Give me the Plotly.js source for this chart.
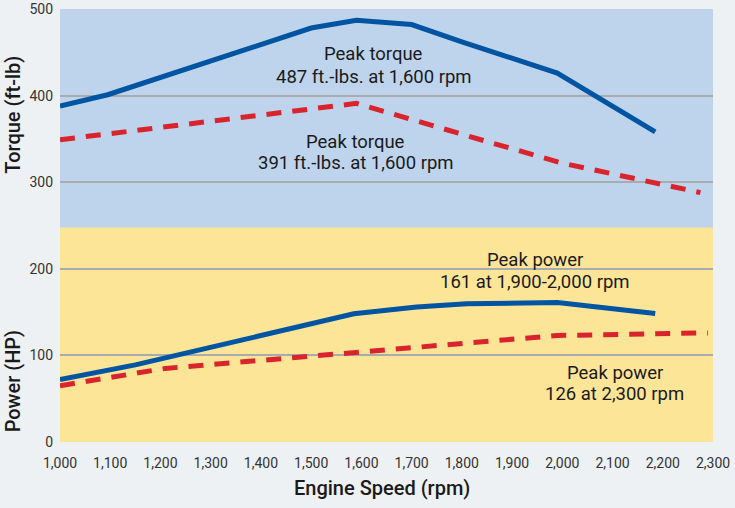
<!DOCTYPE html>
<html>
<head>
<meta charset="utf-8">
<script src="https://cdn.plot.ly/plotly-3.0.1.min.js"></script>
<style>
  html, body { margin: 0; padding: 0; background: #eef1f3; }
  #chart { width: 735px; height: 508px; }
</style>
</head>
<body>
<div id="chart"></div>
<script>
// Engine speed (rpm) and values
const torqueNewRpm = [1000, 1095, 1500, 1590, 1700, 1800, 1990, 2185];
const torqueNew    = [388, 401, 478, 487, 482, 462, 426, 358];

const torqueOldRpm = [1000, 1590, 1850, 2000, 2275];
const torqueOld    = [349, 391, 347, 322, 288];

const powerNewRpm  = [1000, 1150, 1585, 1710, 1810, 1910, 1990, 2185];
const powerNew     = [72, 89, 148, 156, 159.5, 161, 161, 148.5];

const powerOldRpm  = [1000, 1210, 1990, 2290];
const powerOld     = [65, 85, 123, 126];

const xTickVals = [1000, 1100, 1200, 1300, 1400, 1500, 1600, 1700, 1800, 1900, 2000, 2100, 2200, 2300];
const xTickText = ["1,000", "1,100", "1,200", "1,300", "1,400", "1,500", "1,600", "1,700", "1,800", "1,900", "2,000", "2,100", "2,200", "2,300"];
const yTickVals = [0, 100, 200, 300, 400, 500];

const powerBandTop = 248;   // boundary between power (yellow) and torque (blue) zones
const yMax = 500;

const BLUE = '#0055a2';
const RED = '#d9242d';
const FONT = 'Roboto, "DejaVu Sans", sans-serif';

const traces = [
  { x: torqueNewRpm, y: torqueNew, mode: 'lines', line: { color: BLUE, width: 5 }, hoverinfo: 'skip' },
  { x: torqueOldRpm, y: torqueOld, mode: 'lines', line: { color: RED, width: 5, dash: '15px,11px' }, hoverinfo: 'skip' },
  { x: powerNewRpm, y: powerNew, mode: 'lines', line: { color: BLUE, width: 5 }, hoverinfo: 'skip' },
  { x: powerOldRpm, y: powerOld, mode: 'lines', line: { color: RED, width: 5, dash: '15px,11px' }, hoverinfo: 'skip' }
];

const labelFont = { family: FONT, size: 18.5, color: '#1a1a1a' };
function lbl(text, x, y) {
  return { text: text, x: x, y: y, xref: 'x', yref: 'y', showarrow: false, font: labelFont, xanchor: 'center', yanchor: 'middle' };
}
const titleFont = { family: FONT, size: 20, color: '#1a1a1a', weight: 500 };

const layout = {
  width: 735, height: 508,
  margin: { l: 60, r: 22, t: 9, b: 66 },
  paper_bgcolor: '#eef1f3',
  plot_bgcolor: '#bed4ec',
  showlegend: false,
  font: { family: FONT, color: '#333' },
  xaxis: {
    range: [1000, 2300],
    tickvals: xTickVals, ticktext: xTickText,
    showgrid: false, zeroline: false, showline: false, ticks: '',
    tickfont: { family: FONT, size: 14, color: '#333' },
    ticklabelstandoff: 11
  },
  yaxis: {
    range: [0, yMax],
    tickvals: yTickVals,
    showgrid: true, gridcolor: '#a9acae', gridwidth: 2,
    zeroline: false, showline: false, ticks: '',
    tickfont: { family: FONT, size: 14, color: '#333' },
    ticklabelstandoff: 6
  },
  shapes: [
    { type: 'rect', layer: 'below', xref: 'paper', yref: 'y', x0: 0, x1: 1, y0: 0, y1: powerBandTop, fillcolor: '#fde598', line: { width: 0 } },
    { type: 'rect', layer: 'below', xref: 'paper', yref: 'y', x0: 0, x1: 1, y0: powerBandTop, y1: yMax, fillcolor: '#bed4ec', line: { width: 0 } }
  ],
  annotations: [
    lbl('Peak torque', 1625, 448),
    lbl('487 ft.-lbs. at 1,600 rpm', 1625, 421.5),
    lbl('Peak torque', 1589, 347),
    lbl('391 ft.-lbs. at 1,600 rpm', 1589, 322),
    lbl('Peak power', 1946, 210),
    lbl('161 at 1,900-2,000 rpm', 1946, 185),
    lbl('Peak power', 2104, 80),
    lbl('126 at 2,300 rpm', 2104, 56),
    { text: 'Torque (ft-lb)', xref: 'paper', yref: 'y', x: -0.072, y: 378, textangle: -90, showarrow: false,
      font: titleFont, xanchor: 'center', yanchor: 'middle' },
    { text: 'Power (HP)', xref: 'paper', yref: 'y', x: -0.072, y: 70, textangle: -90, showarrow: false,
      font: titleFont, xanchor: 'center', yanchor: 'middle' },
    { text: 'Engine Speed (rpm)', xref: 'paper', yref: 'paper', x: 0.4925, y: -0.107, showarrow: false,
      font: titleFont, xanchor: 'center', yanchor: 'middle' }
  ]
};

Plotly.newPlot('chart', traces, layout, { displayModeBar: false, staticPlot: true });
</script>
</body>
</html>
